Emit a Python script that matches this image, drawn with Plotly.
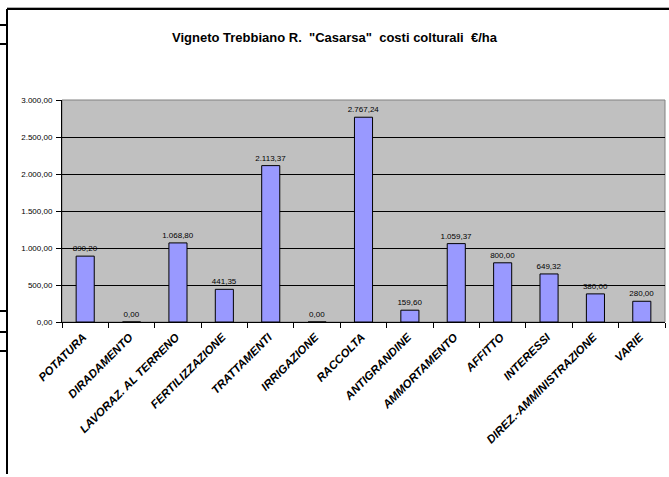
import plotly.graph_objects as go

categories = ["POTATURA", "DIRADAMENTO", "LAVORAZ. AL TERRENO", "FERTILIZZAZIONE",
              "TRATTAMENTI", "IRRIGAZIONE", "RACCOLTA", "ANTIGRANDINE",
              "AMMORTAMENTO", "AFFITTO", "INTERESSI", "DIREZ.-AMMINISTRAZIONE", "VARIE"]
costs = [890.20, 0.00, 1068.80, 441.35, 2113.37, 0.00, 2767.24, 159.60,
         1059.37, 800.00, 649.32, 380.00, 280.00]
y_ticks = [0, 500, 1000, 1500, 2000, 2500, 3000]
title_text = 'Vigneto Trebbiano R.  "Casarsa"  costi colturali  €/ha'

W, H = 669, 477
ML, MR, MT, MB = 62, 4, 100, 155
PW, PH = W - ML - MR, H - MT - MB

def px(x):
    return (x - ML) / PW

def py(y):
    return (H - MB - y) / PH

FONT = "Arial, Liberation Sans, sans-serif"

fig = go.Figure(go.Bar(
    x=categories, y=costs,
    marker=dict(color="#9999FF", line=dict(color="black", width=1)),
    texttemplate="%{y:,.2f}", textposition="outside", constraintext="none",
    textfont=dict(family=FONT, size=8, color="black"),
    cliponaxis=False,
))

shapes = []
line_k = dict(color="black", width=2)
# spreadsheet cell borders around the chart object
shapes.append(dict(type="line", xref="paper", yref="paper", x0=px(7), x1=px(W), y0=py(7.5), y1=py(7.5),
                   line=dict(color="#B0B0B0", width=1)))
shapes.append(dict(type="line", xref="paper", yref="paper", x0=px(7), x1=px(W), y0=py(9), y1=py(9), line=line_k))
shapes.append(dict(type="line", xref="paper", yref="paper", x0=px(7), x1=px(7), y0=py(9), y1=py(474), line=line_k))
for sy in [25, 44, 311, 332, 351]:
    shapes.append(dict(type="line", xref="paper", yref="paper", x0=px(0), x1=px(7), y0=py(sy), y1=py(sy), line=line_k))
# plot area border
shapes.append(dict(type="rect", xref="paper", yref="paper", x0=0, x1=1, y0=0, y1=1,
                   line=dict(color="#808080", width=1), layer="below"))

fig.update_layout(
    width=W, height=H,
    margin=dict(l=ML, r=MR, t=MT, b=MB, pad=0),
    paper_bgcolor="white", plot_bgcolor="#C0C0C0",
    separators=",.",
    showlegend=False,
    bargap=0.61,
    title=dict(text="<b>" + title_text + "</b>", x=0.5, xanchor="center", xref="container",
               y=1 - 37.5 / H, yanchor="middle", yref="container",
               font=dict(family=FONT, size=13, color="black")),
    shapes=shapes,
    font=dict(family=FONT, color="black"),
)
fig.update_yaxes(range=[0, 3000], tickvals=y_ticks, tickformat=",.2f",
                 showgrid=True, gridcolor="black", gridwidth=1,
                 showline=True, linecolor="black", linewidth=1,
                 ticks="outside", ticklen=5, tickcolor="black", ticklabelstandoff=2,
                 tickfont=dict(family=FONT, size=8, color="black"), zeroline=False)
fig.update_xaxes(showgrid=False, showline=True, linecolor="black", linewidth=1,
                 ticks="outside", ticklen=5, tickcolor="black", tickson="boundaries",
                 tickangle=-45, ticklabelstandoff=3, ticklabelshift=-2,
                 tickfont=dict(family=FONT, size=11.5, color="black", weight="bold", style="italic"))

fig.write_html("out.html", config={"displayModeBar": False},
               post_script="document.body.style.margin='0';")
